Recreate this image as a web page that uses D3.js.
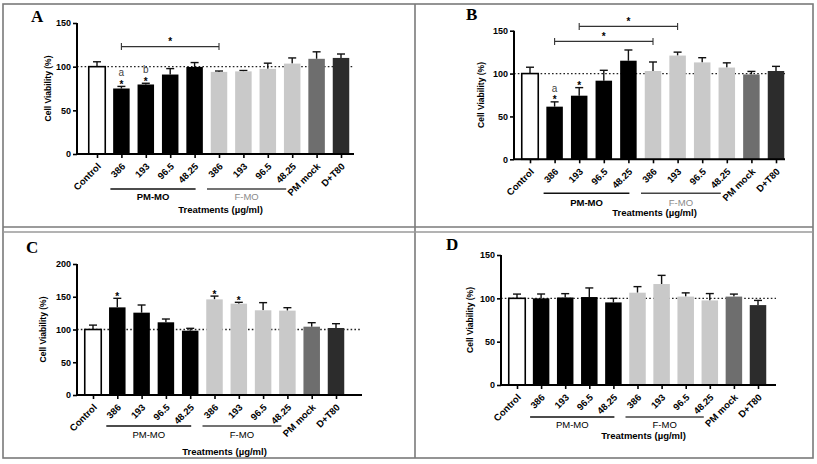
<!DOCTYPE html>
<html>
<head>
<meta charset="utf-8">
<script src="https://cdn.jsdelivr.net/npm/d3@7"></script>
<style>
  html, body { margin: 0; padding: 0; background: #fff; }
  svg { display: block; font-family: "Liberation Sans", Arial, sans-serif; }
</style>
</head>
<body>
<svg id="chart" width="817" height="464"></svg>
<script>
// ---------------- DATA ----------------
const categories = ["Control", "386", "193", "96.5", "48.25", "386", "193", "96.5", "48.25", "PM mock", "D+T80"];
const groupLabels = ["PM-MO", "F-MO"];
const xTitle = "Treatments (\u00b5g/ml)";
const yTitle = "Cell Viability (%)";
const panelLetters = ["A", "B", "C", "D"];

// bar means
const valuesA = [100, 75, 79.6, 91, 99.7, 94, 94.6, 97.5, 103.5, 109, 110];
const valuesB = [100, 61.4, 74.2, 91.7, 115, 103, 121, 113, 107, 99, 103];
const valuesC = [100, 133.8, 125.7, 111, 98.2, 146, 139.4, 129.3, 128.8, 104.3, 102.3];
const valuesD = [100, 100, 101, 101.5, 95.3, 106.5, 116.5, 102, 97.6, 102, 92.2];
// upper end of error bars
const errTopA = [105.6, 77.4, 81, 97.8, 104.7, 95, 95.6, 104, 110, 117, 114.5];
const errTopB = [107.4, 67, 83.6, 103.8, 127.5, 113.5, 125, 118.5, 112.5, 102.5, 108.4];
const errTopC = [106.7, 147.6, 137.4, 116, 101.8, 151, 141.5, 141, 133.3, 110.4, 108.9];
const errTopD = [104.9, 105, 105.4, 112, 100, 113.5, 126.5, 106.3, 105.5, 104.9, 97.6];

const yTicksA = [0, 50, 100, 150];
const yTicksB = [0, 50, 100, 150];
const yTicksC = [0, 50, 100, 150, 200];
const yTicksD = [0, 50, 100, 150];

// significance marks: bar index + optional letter
const starsA = [{ i: 1, letter: "a" }, { i: 2, letter: "b" }];
const starsB = [{ i: 1, letter: "a" }, { i: 2, letter: "" }];
const starsC = [{ i: 1, letter: "" }, { i: 5, letter: "" }, { i: 6, letter: "" }];
const starsD = [];
// comparison brackets: from bar, to bar, level (in % units)
const bracketsA = [{ from: 1, to: 5, level: 123 }];
const bracketsB = [{ from: 1, to: 5, level: 137.5 }, { from: 2, to: 6, level: 155 }];
const bracketsC = [];
const bracketsD = [];

// bar colour per category
const barColors = ["#ffffff", "#000000", "#000000", "#000000", "#000000", "#c9c9c9", "#c9c9c9", "#c9c9c9", "#c9c9c9", "#6e6e6e", "#2c2c2c"];

// ---------------- LAYOUT ----------------
const panels = [
  { letter: panelLetters[0], values: valuesA, err: errTopA, ticks: yTicksA, stars: starsA, brackets: bracketsA,
    ax0: 77, ax1: 354, yZero: 154, yTopPx: 23, yMax: 150, c0: 97, c10: 341,
    letterX: 31, letterY: 22, yTitleX: 48, grpStyle: [{ w: "bold", c: "#000" }, { w: "normal", c: "#8a8a8a" }],
    grpLineDy: 35, grpLabelDy: 46, titleDy: 59 },
  { letter: panelLetters[1], values: valuesB, err: errTopB, ticks: yTicksB, stars: starsB, brackets: bracketsB,
    ax0: 514, ax1: 785, yZero: 159.3, yTopPx: 30.7, yMax: 150, c0: 530, c10: 776,
    letterX: 466, letterY: 20, yTitleX: 481, grpStyle: [{ w: "bold", c: "#000" }, { w: "normal", c: "#8a8a8a" }],
    grpLineDy: 34, grpLabelDy: 47, titleDy: 57 },
  { letter: panelLetters[2], values: valuesC, err: errTopC, ticks: yTicksC, stars: starsC, brackets: bracketsC,
    ax0: 77, ax1: 362, yZero: 395, yTopPx: 264, yMax: 200, c0: 93, c10: 336,
    letterX: 26, letterY: 253, yTitleX: 43, grpStyle: [{ w: "normal", c: "#000" }, { w: "normal", c: "#000" }],
    grpLineDy: 31, grpLabelDy: 43, titleDy: 60 },
  { letter: panelLetters[3], values: valuesD, err: errTopD, ticks: yTicksD, stars: starsD, brackets: bracketsD,
    ax0: 501, ax1: 776, yZero: 385, yTopPx: 255, yMax: 150, c0: 517, c10: 758,
    letterX: 446, letterY: 250, yTitleX: 470, grpStyle: [{ w: "normal", c: "#000" }, { w: "normal", c: "#000" }],
    grpLineDy: 32, grpLabelDy: 43, titleDy: 54 }
];

const SANS = "'Liberation Sans', Arial, sans-serif";
const SERIF = "'Liberation Serif', 'Times New Roman', serif";
const svg = d3.select("#chart");

// frame
const frame = svg.append("g").attr("stroke", "#7a7a7a").attr("stroke-width", 1.6).attr("fill", "none");
frame.append("rect").attr("x", 3).attr("y", 4).attr("width", 810).attr("height", 454);
frame.append("line").attr("x1", 415).attr("x2", 415).attr("y1", 4).attr("y2", 458);
frame.append("line").attr("x1", 3).attr("x2", 813).attr("y1", 227).attr("y2", 227);
frame.append("line").attr("x1", 3).attr("x2", 813).attr("y1", 232).attr("y2", 232).attr("stroke", "#9a9a9a");

panels.forEach(p => {
  const g = svg.append("g");
  const idx = d3.range(categories.length);
  const x = d3.scalePoint().domain(idx).range([p.c0, p.c10]);
  const y = d3.scaleLinear().domain([0, p.yMax]).range([p.yZero, p.yTopPx]);
  const barW = 16.5;

  // dotted 100% reference line
  g.append("line")
    .attr("x1", p.ax0).attr("x2", p.ax1)
    .attr("y1", y(100)).attr("y2", y(100))
    .attr("stroke", "#222").attr("stroke-width", 1.3).attr("stroke-dasharray", "1.6,2.2");

  // error bars (upper only)
  const eb = g.append("g").attr("stroke", "#111").attr("stroke-width", 1.4);
  idx.forEach(i => {
    const cx = x(i);
    eb.append("line").attr("x1", cx).attr("x2", cx).attr("y1", y(p.values[i])).attr("y2", y(p.err[i]));
    eb.append("line").attr("x1", cx - 4).attr("x2", cx + 4).attr("y1", y(p.err[i])).attr("y2", y(p.err[i]));
  });

  // bars
  g.append("g").selectAll("rect").data(idx).join("rect")
    .attr("x", i => x(i) - barW / 2)
    .attr("width", barW)
    .attr("y", i => y(p.values[i]))
    .attr("height", i => y(0) - y(p.values[i]))
    .attr("fill", i => barColors[i])
    .attr("stroke", i => i === 0 ? "#000" : "none")
    .attr("stroke-width", 1.6);

  // y axis
  const yAxis = d3.axisLeft(y).tickValues(p.ticks).tickSize(4).tickPadding(2).tickFormat(d3.format("d"));
  const ya = g.append("g").attr("transform", `translate(${p.ax0},0)`).call(yAxis);
  ya.select(".domain").attr("stroke-width", 2).attr("d", `M0,${p.yZero}V${p.yTopPx}`);
  ya.selectAll(".tick line").attr("stroke-width", 1.6);
  ya.selectAll(".tick text").attr("font-size", 9).attr("font-weight", "bold")
    .style("font-family", SANS).attr("fill", "#000");

  // x axis
  const xAxis = d3.axisBottom(x).tickSize(4).tickFormat(i => categories[i]);
  const xa = g.append("g").attr("transform", `translate(0,${p.yZero})`).call(xAxis);
  xa.select(".domain").attr("stroke-width", 2).attr("d", `M${p.ax0},0H${p.ax1}`);
  xa.selectAll(".tick line").attr("stroke-width", 1.6);
  xa.selectAll(".tick text")
    .attr("font-size", 9.5).attr("font-weight", "bold")
    .style("font-family", SANS).attr("fill", "#000")
    .attr("text-anchor", "end")
    .attr("y", 0).attr("dy", 0)
    .attr("transform", "translate(4,13) rotate(-45)");

  // group underlines & labels
  const groups = [
    { from: 1, to: 4, o0: -11, o1: 1 },
    { from: 5, to: 8, o0: -12, o1: -6 }
  ];
  groups.forEach((gr, k) => {
    const xa0 = x(gr.from) + gr.o0, xa1 = x(gr.to) + gr.o1;
    g.append("line").attr("x1", xa0).attr("x2", xa1)
      .attr("y1", p.yZero + p.grpLineDy).attr("y2", p.yZero + p.grpLineDy)
      .attr("stroke", k === 0 ? "#111" : "#444").attr("stroke-width", 1.4);
    g.append("text").attr("x", (xa0 + xa1) / 2).attr("y", p.yZero + p.grpLabelDy)
      .attr("text-anchor", "middle").attr("font-size", 9.5)
      .attr("font-weight", p.grpStyle[k].w).attr("fill", p.grpStyle[k].c)
      .text(groupLabels[k]);
  });

  // x title
  g.append("text").attr("x", (p.ax0 + p.ax1) / 2 + 5).attr("y", p.yZero + p.titleDy)
    .attr("text-anchor", "middle").attr("font-size", 9.5).attr("font-weight", "bold")
    .text(xTitle);

  // y title
  g.append("text")
    .attr("transform", `translate(${p.yTitleX},${(p.yZero + p.yTopPx) / 2}) rotate(-90)`)
    .attr("text-anchor", "middle").attr("dy", "0.35em").attr("font-size", 8.5).attr("font-weight", "bold")
    .text(yTitle);

  // panel letter
  g.append("text").attr("x", p.letterX).attr("y", p.letterY)
    .style("font-family", SERIF)
    .attr("font-size", 17).attr("font-weight", "bold").text(p.letter);

  // stars
  p.stars.forEach(s => {
    const cx = x(s.i);
    const top = Math.min(y(p.err[s.i]), y(p.values[s.i]));
    g.append("text").attr("x", cx).attr("y", top + 1.5)
      .attr("text-anchor", "middle").attr("font-size", 10).attr("font-weight", "bold").text("*");
    if (s.letter) {
      g.append("text").attr("x", cx).attr("y", top - 10)
        .attr("text-anchor", "middle").attr("font-size", 10).attr("fill", "#444").text(s.letter);
    }
  });

  // brackets
  p.brackets.forEach(b => {
    const yy = y(b.level);
    const x0 = x(b.from), x1 = x(b.to);
    const bg = g.append("g").attr("stroke", "#333").attr("stroke-width", 1.1);
    bg.append("line").attr("x1", x0).attr("x2", x1).attr("y1", yy).attr("y2", yy);
    bg.append("line").attr("x1", x0).attr("x2", x0).attr("y1", yy - 3.5).attr("y2", yy + 3.5);
    bg.append("line").attr("x1", x1).attr("x2", x1).attr("y1", yy - 3.5).attr("y2", yy + 3.5);
    g.append("text").attr("x", (x0 + x1) / 2).attr("y", yy - 1.5)
      .attr("text-anchor", "middle").attr("font-size", 10).attr("font-weight", "bold").text("*");
  });
});
</script>
</body>
</html>
